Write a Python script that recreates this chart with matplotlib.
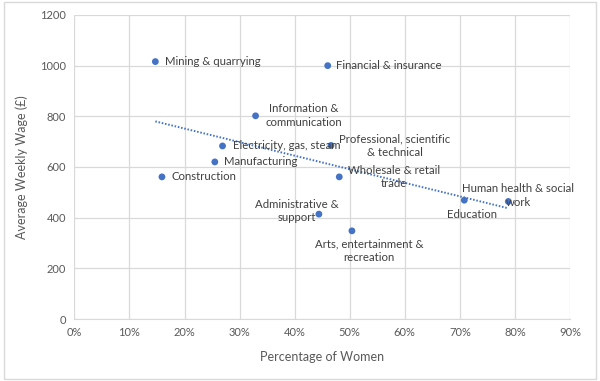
import numpy as np
import matplotlib
matplotlib.use('Agg')
import matplotlib.pyplot as plt
from matplotlib.patches import Rectangle
from matplotlib.ticker import FuncFormatter

plt.rcParams['font.family'] = ['Lato', 'DejaVu Sans']

SECTORS = [
    'Mining & quarrying', 'Financial & insurance', 'Information &\ncommunication',
    'Electricity, gas, steam', 'Manufacturing', 'Construction',
    'Professional, scientific\n& technical', 'Wholesale & retail\ntrade',
    'Human health & social\nwork', 'Education', 'Administrative &\nsupport',
    'Arts, entertainment &\nrecreation',
]
PCT_WOMEN = [14.7, 46.0, 32.9, 26.9, 25.5, 15.9, 46.6, 48.1, 78.8, 70.8, 44.4, 50.4]
WAGE = [1016, 1000, 802, 683, 620, 561, 685, 561, 464, 469, 414, 348]

# label placement (pixel offsets from point, horizontal alignment)
LABEL_POS = [
    (10, 0, 'left'), (8, 0, 'left'), (48, 0, 'center'), (10, 0, 'left'),
    (9, 0, 'left'), (10, 0, 'left'), (64, 0, 'center'), (55, 0, 'center'),
    (10, 6, 'center'), (8, -14, 'center'), (-22, 3, 'center'), (17, -20, 'center'),
]

BLUE = '#4472C4'
TXT = '#595959'
GRID = '#D9D9D9'

x = np.array(PCT_WOMEN)
y = np.array(WAGE)

fig = plt.figure(figsize=(6, 3.81), dpi=100)
fig.patches.append(Rectangle((0.007, 0.006), 0.986, 0.988, transform=fig.transFigure,
                             fill=False, edgecolor='#D9D9D9', linewidth=1.0))
ax = fig.add_axes([0.124, 0.1627, 0.826, 0.798])

# linear trendline
k, b = np.polyfit(x, y, 1)
xt = np.array([x.min(), x.max()])
ax.plot(xt, k * xt + b, linestyle=(0, (0.8, 0.9)), color=BLUE, linewidth=1.4, zorder=2)

ax.scatter(x, y, s=24, color=BLUE, zorder=3, edgecolors='none')

for name, xi, yi, (dx, dy, ha) in zip(SECTORS, x, y, LABEL_POS):
    ax.annotate(name, (xi, yi), xytext=(dx, dy), textcoords='offset pixels',
                ha=ha, va='center', fontsize=8.2, color='#404040',
                multialignment='center', linespacing=1.3, zorder=4)

ax.set_xlim(0, 90)
ax.set_ylim(0, 1200)
ax.set_xticks(np.arange(0, 91, 10))
ax.set_yticks(np.arange(0, 1201, 200))
ax.xaxis.set_major_formatter(FuncFormatter(lambda v, p: f'{int(v)}%'))
ax.grid(color=GRID, linewidth=0.9)
ax.set_axisbelow(True)
for s in ['top', 'right', 'left']:
    ax.spines[s].set_visible(False)
ax.spines['bottom'].set_color(GRID)
ax.tick_params(length=0, labelsize=8, colors=TXT, pad=6)

ax.set_xlabel('Percentage of Women', fontsize=9, color=TXT, labelpad=9)
ax.set_ylabel('Average Weekly Wage (£)', fontsize=9, color=TXT, labelpad=9)

fig.savefig('out.png', dpi=100)
